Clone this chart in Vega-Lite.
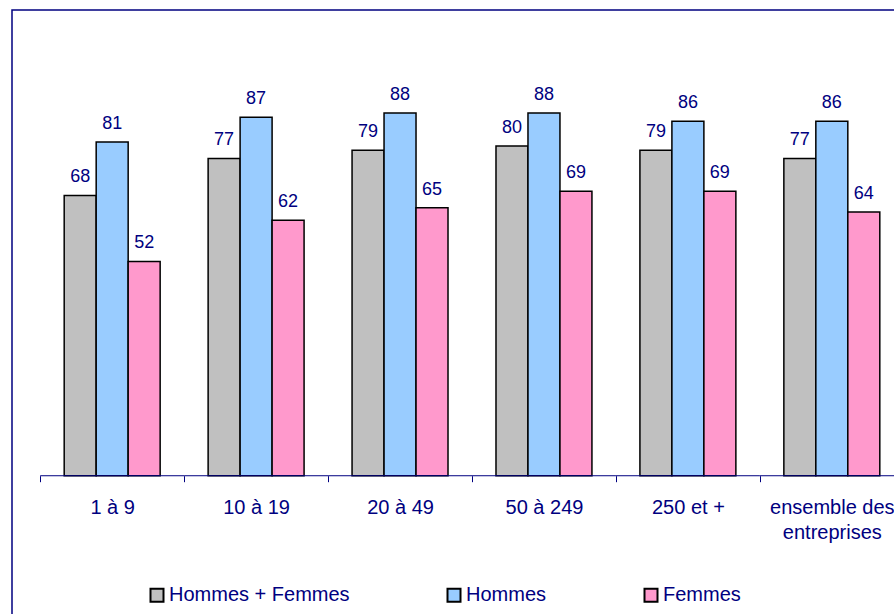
{
  "$schema": "https://vega.github.io/schema/vega-lite/v6.json",
  "width": 920,
  "height": 610,
  "autosize": {"type": "none"},
  "padding": {"left": 12, "top": 10, "right": 0, "bottom": 0},
  "background": "white",
  "config": {
    "view": {"stroke": "#000080", "strokeWidth": 1.5},
    "font": "Liberation Sans"
  },
  "data": {
    "values": [
      {"cat": "1 à 9", "serie": "Hommes + Femmes", "v": 68},
      {"cat": "1 à 9", "serie": "Hommes", "v": 81},
      {"cat": "1 à 9", "serie": "Femmes", "v": 52},
      {"cat": "10 à 19", "serie": "Hommes + Femmes", "v": 77},
      {"cat": "10 à 19", "serie": "Hommes", "v": 87},
      {"cat": "10 à 19", "serie": "Femmes", "v": 62},
      {"cat": "20 à 49", "serie": "Hommes + Femmes", "v": 79},
      {"cat": "20 à 49", "serie": "Hommes", "v": 88},
      {"cat": "20 à 49", "serie": "Femmes", "v": 65},
      {"cat": "50 à 249", "serie": "Hommes + Femmes", "v": 80},
      {"cat": "50 à 249", "serie": "Hommes", "v": 88},
      {"cat": "50 à 249", "serie": "Femmes", "v": 69},
      {"cat": "250 et +", "serie": "Hommes + Femmes", "v": 79},
      {"cat": "250 et +", "serie": "Hommes", "v": 86},
      {"cat": "250 et +", "serie": "Femmes", "v": 69},
      {"cat": "ensemble des entreprises", "serie": "Hommes + Femmes", "v": 77},
      {"cat": "ensemble des entreprises", "serie": "Hommes", "v": 86},
      {"cat": "ensemble des entreprises", "serie": "Femmes", "v": 64}
    ]
  },
  "layer": [
    {
      "mark": {"type": "bar", "stroke": "black", "strokeWidth": 1.5},
      "encoding": {
        "x": {
          "field": "cat", "type": "nominal",
          "sort": ["1 à 9", "10 à 19", "20 à 49", "50 à 249", "250 et +", "ensemble des entreprises"],
          "scale": {"paddingInner": 0, "paddingOuter": 0.196},
          "axis": {
            "title": null, "domain": false, "ticks": true, "tickBand": "extent",
            "tickSize": 6, "tickColor": "#000080", "tickWidth": 1,
            "labelAngle": 0, "labelFontSize": 20, "labelColor": "#000080",
            "labelPadding": 16, "labelLineHeight": 25, "labelLimit": 0,
            "offset": -144.3, "grid": false,
            "labelExpr": "datum.value == 'ensemble des entreprises' ? ['ensemble des', 'entreprises'] : datum.value"
          }
        },
        "xOffset": {
          "field": "serie", "type": "nominal",
          "sort": ["Hommes + Femmes", "Hommes", "Femmes"],
          "scale": {"paddingInner": 0, "paddingOuter": 0.75}
        },
        "y": {
          "field": "v", "type": "quantitative",
          "scale": {"domain": [-35, 113], "nice": false, "zero": false},
          "axis": null
        },
        "y2": {"datum": 0},
        "color": {
          "field": "serie", "type": "nominal",
          "sort": ["Hommes + Femmes", "Hommes", "Femmes"],
          "scale": {"domain": ["Hommes + Femmes", "Hommes", "Femmes"], "range": ["#C0C0C0", "#99CCFF", "#FF99CC"]},
          "legend": {
            "orient": "none", "legendX": 135, "legendY": 575,
            "direction": "horizontal", "title": null,
            "symbolType": "square", "symbolSize": 169,
            "symbolStrokeColor": "black", "symbolStrokeWidth": 2, "symbolOpacity": 1,
            "labelFontSize": 20, "labelColor": "#000080", "labelOffset": 2, "labelLimit": 0,
            "columnPadding": 93, "padding": 0
          }
        }
      }
    },
    {
      "mark": {"type": "text", "dy": -13, "baseline": "alphabetic", "fontSize": 18, "color": "#000080"},
      "encoding": {
        "x": {"field": "cat", "type": "nominal", "sort": ["1 à 9", "10 à 19", "20 à 49", "50 à 249", "250 et +", "ensemble des entreprises"]},
        "xOffset": {"field": "serie", "type": "nominal", "sort": ["Hommes + Femmes", "Hommes", "Femmes"]},
        "y": {"field": "v", "type": "quantitative"},
        "text": {"field": "v", "type": "quantitative"}
      }
    },
    {
      "transform": [{"filter": "datum.serie == 'Hommes'"}],
      "mark": {"type": "rule", "color": "#000080", "strokeWidth": 1},
      "encoding": {
        "x": {"field": "cat", "type": "nominal", "bandPosition": 0, "sort": ["1 à 9", "10 à 19", "20 à 49", "50 à 249", "250 et +", "ensemble des entreprises"]},
        "x2": {"field": "cat", "bandPosition": 1},
        "y": {"datum": 0}
      }
    }
  ]
}
